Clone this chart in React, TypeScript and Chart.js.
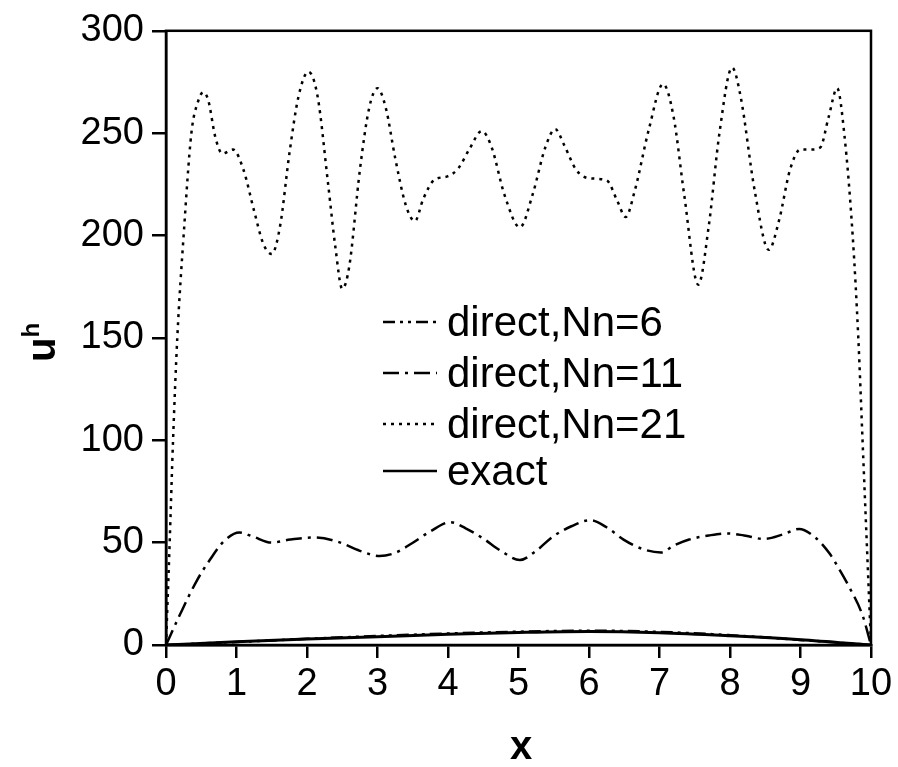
import React, { useEffect, useRef } from "react";
import { Chart, registerables } from "chart.js";

Chart.register(...registerables);

const xTicks = [0, 1, 2, 3, 4, 5, 6, 7, 8, 9, 10];
const yTicks = [0, 50, 100, 150, 200, 250, 300];

const xN6 = [0, 1, 2, 3, 4, 5, 6, 7, 8, 9, 10];
const yN6 = [0, 1.5, 3.0, 4.4, 5.6, 6.5, 7.0, 6.4, 4.8, 2.5, 0];

const xN11 = [0, 0.2, 0.43, 0.63, 0.83, 1.04, 1.23, 1.5, 1.76, 2.1, 2.43, 2.75, 3.03, 3.25, 3.49, 3.75, 4.03, 4.25, 4.5, 4.75, 5.02, 5.25, 5.49, 5.75, 6.02, 6.25, 6.49, 6.75, 7.02, 7.2, 7.42, 7.7, 7.95, 8.2, 8.48, 8.75, 8.98, 9.21, 9.41, 9.55, 9.68, 9.88, 10];
const yN11 = [0, 15, 31, 42, 51, 55, 53, 50, 51.5, 52.5, 50.5, 46, 43.5, 45, 49.7, 55.5, 60, 57, 52, 46, 41.5, 46, 53, 58, 61, 57.5, 51.5, 47, 45.2, 48.5, 51.5, 53.5, 54.5, 53.5, 51.8, 54, 56.7, 52.5, 44.8, 37, 29, 14.5, 0];

const xN21 = [0, 0.05, 0.1, 0.16, 0.25, 0.36, 0.45, 0.53, 0.6, 0.7, 0.8, 0.95, 1.1, 1.25, 1.38, 1.5, 1.62, 1.75, 1.88, 2.02, 2.15, 2.3, 2.4, 2.5, 2.6, 2.75, 2.88, 3.0, 3.12, 3.25, 3.4, 3.53, 3.65, 3.8, 4.0, 4.15, 4.3, 4.48, 4.62, 4.8, 5.02, 5.2, 5.38, 5.52, 5.65, 5.82, 6.0, 6.25, 6.4, 6.52, 6.65, 6.85, 7.05, 7.2, 7.35, 7.55, 7.7, 7.85, 8.03, 8.15, 8.35, 8.55, 8.7, 8.85, 9.0, 9.15, 9.28, 9.4, 9.52, 9.62, 9.74, 9.82, 9.88, 9.94, 10];
const yN21 = [0, 48, 100, 150, 200, 250, 265, 270, 266, 248, 240, 242, 232, 212, 196, 191, 205, 240, 268, 280, 268, 225, 195, 174, 185, 232, 262, 272, 262, 238, 215, 207, 218, 227, 229, 233, 242, 251, 243, 220, 204, 220, 243, 252, 244, 232, 228, 227, 217, 209, 222, 252, 274, 258, 220, 176, 205, 250, 282, 268, 222, 193, 208, 232, 242, 242, 243, 258, 272, 250, 200, 150, 100, 50, 0];

const xExact = [0, 1, 2, 3, 4, 5, 6, 7, 8, 9, 10];
const yExact = [0, 1.6, 2.9, 4.0, 5.2, 6.1, 6.6, 6.0, 4.5, 2.6, 0];

const seriesNames = ["direct,Nn=6", "direct,Nn=11", "direct,Nn=21", "exact"];
const dashes = [[12, 5, 3, 5, 3, 5], [16, 6, 3, 6], [3, 5], []];

const FONT = "'Liberation Sans', Arial, sans-serif";

function pts(xs: number[], ys: number[]) {
  return xs.map((x, i) => ({ x, y: ys[i] }));
}

const frameAndText = {
  id: "frameAndText",
  afterDatasetsDraw(chart: any) {
    const { ctx, chartArea } = chart;
    ctx.save();
    ctx.strokeStyle = "#000";
    ctx.lineWidth = 2.5;
    ctx.setLineDash([]);
    ctx.strokeRect(chartArea.left, chartArea.top, chartArea.right - chartArea.left, chartArea.bottom - chartArea.top);

    // legend
    const lx1 = 383, lx2 = 437, tx = 447;
    const rows = [322, 373, 424, 471];
    ctx.font = `42px ${FONT}`;
    ctx.fillStyle = "#000";
    ctx.textBaseline = "middle";
    ctx.textAlign = "left";
    rows.forEach((ry, i) => {
      ctx.beginPath();
      ctx.setLineDash(dashes[i]);
      ctx.lineWidth = 2.5;
      ctx.moveTo(lx1, ry);
      ctx.lineTo(lx2, ry);
      ctx.stroke();
      ctx.setLineDash([]);
      ctx.fillText(seriesNames[i], tx, ry + 2);
    });

    // x title
    ctx.font = `bold 40px ${FONT}`;
    ctx.textAlign = "center";
    ctx.textBaseline = "alphabetic";
    ctx.fillText("x", 521, 759);

    // y title u^h
    ctx.translate(55, 362);
    ctx.rotate(-Math.PI / 2);
    ctx.textAlign = "left";
    ctx.font = `bold 40px ${FONT}`;
    ctx.fillText("u", 0, 0);
    const w = ctx.measureText("u").width;
    ctx.font = `bold 24px ${FONT}`;
    ctx.fillText("h", w, -16);
    ctx.restore();
  },
};

export default function App() {
  const ref = useRef<HTMLCanvasElement | null>(null);
  useEffect(() => {
    if (!ref.current) return;
    const common = { borderColor: "#000", backgroundColor: "#000", pointRadius: 0, borderWidth: 2.5, fill: false, cubicInterpolationMode: "monotone" as const };
    const chart = new Chart(ref.current, {
      type: "line",
      data: {
        datasets: [
          { ...common, label: seriesNames[0], data: pts(xN6, yN6), borderDash: dashes[0] },
          { ...common, label: seriesNames[1], data: pts(xN11, yN11), borderDash: dashes[1] },
          { ...common, label: seriesNames[2], data: pts(xN21, yN21), borderDash: dashes[2] },
          { ...common, label: seriesNames[3], data: pts(xExact, yExact), borderDash: dashes[3], borderWidth: 3 },
        ],
      },
      options: {
        animation: false,
        responsive: true,
        maintainAspectRatio: false,
        layout: { padding: { top: 26, right: 27, left: 0, bottom: 0 } },
        plugins: { legend: { display: false }, tooltip: { enabled: false } },
        scales: {
          x: {
            type: "linear",
            min: 0,
            max: 10,
            afterBuildTicks: (s: any) => { s.ticks = xTicks.map((v) => ({ value: v })); },
            afterFit: (s: any) => { s.height = 122; },
            ticks: { color: "#000", font: { family: FONT, size: 38 }, padding: 4, maxRotation: 0, autoSkip: false },
            grid: { drawOnChartArea: false, drawTicks: true, tickLength: 13, color: "#000", lineWidth: 2.5 },
            border: { color: "#000", width: 2.5 },
          },
          y: {
            type: "linear",
            min: 0,
            max: 300,
            afterBuildTicks: (s: any) => { s.ticks = yTicks.map((v) => ({ value: v })); },
            afterFit: (s: any) => { s.width = 166; },
            ticks: { color: "#000", font: { family: FONT, size: 38 }, padding: 8, autoSkip: false },
            grid: { drawOnChartArea: false, drawTicks: true, tickLength: 14, color: "#000", lineWidth: 2.5 },
            border: { color: "#000", width: 2.5 },
          },
        },
      },
      plugins: [frameAndText],
    });
    return () => chart.destroy();
  }, []);
  return (
    <div style={{ position: "fixed", left: 0, top: 0, width: 898, height: 767, background: "#fff" }}>
      <canvas ref={ref} />
    </div>
  );
}
